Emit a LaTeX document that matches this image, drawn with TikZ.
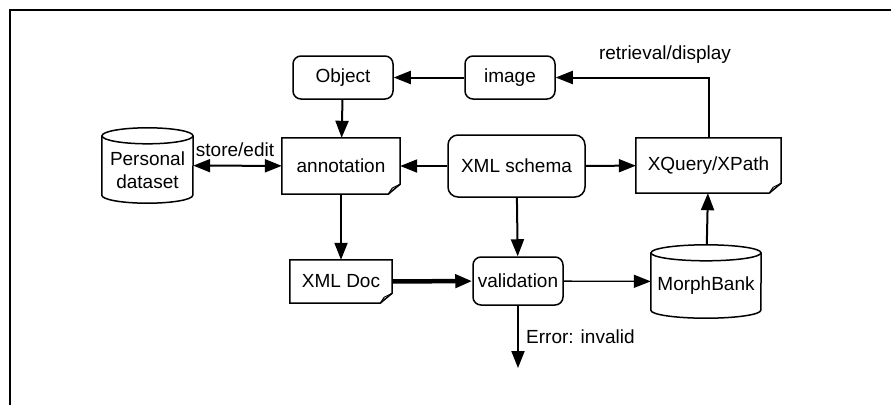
\documentclass[tikz,border=0pt]{standalone}
\usepackage{fontspec}
\setmainfont{Liberation Sans}
\usetikzlibrary{arrows.meta}

% document outline with a folded bottom-right corner
\newcommand\docoutline[1]{%
  \draw[line width=1.5pt] (#1.north west) -- (#1.north east) -- ([yshift=10pt]#1.south east)
    -- ([xshift=-12pt]#1.south east) -- (#1.south west) -- cycle;
  \draw[line width=1pt] ([xshift=-12pt]#1.south east) -- ([xshift=-8pt,yshift=6pt]#1.south east)
    -- ([yshift=10pt]#1.south east);}
% database cylinder drawn round a node; #2 = half width in pt
\newcommand\cyloutline[2]{%
  \draw[line width=1.5pt] ([yshift=-8pt]#1.north) ellipse[x radius=#2pt, y radius=8pt];
  \draw[line width=1.5pt] ([yshift=-8pt]#1.north west) -- ([yshift=8pt]#1.south west)
    arc[start angle=180, end angle=360, x radius=#2pt, y radius=8pt]
    -- ([yshift=-8pt]#1.north east);}

\begin{document}
\begin{tikzpicture}[x=1pt,y=-1pt,
  every node/.style={font=\fontsize{19}{23}\selectfont, inner sep=0pt},
  rbox/.style={draw, line width=1.5pt, rounded corners=8pt},
  plain/.style={align=center},
  arr/.style={-{Triangle[length=17pt,width=13pt]}, line width=2pt},
  lbl/.style={font=\fontsize{19}{23}\selectfont}]
\useasboundingbox (0,0) rectangle (891,405);

% frame
\draw[line width=2pt] (10,405) -- (10,10) -- (891,10);

% boxes
\node[rbox, minimum width=100pt, minimum height=43pt] (obj) at (343,77.5) {Object};
\node[rbox, minimum width=90pt, minimum height=43pt] (img) at (510,77.5) {image};
\node[rbox, rounded corners=10pt, minimum width=137pt, minimum height=62pt] (schema) at (516.5,166) {XML schema};
\node[rbox, minimum width=90pt, minimum height=48pt] (val) at (518,281) {validation};

% documents
\node[plain, minimum width=118pt, minimum height=56pt] (ann) at (341,166) {annotation};
\node[plain, minimum width=145pt, minimum height=55pt] (xq) at (708.5,165.5) {XQuery/XPath};
\node[plain, minimum width=102pt, minimum height=43pt] (doc) at (341,281.5) {XML Doc};
\docoutline{ann}
\docoutline{xq}
\docoutline{doc}

% databases: outline node plus its text, set a little below the centre
\node[minimum width=91pt, minimum height=75pt] (pd) at (147.5,165.5) {};
\node[plain] (pdtext) at (147.5,170) {Personal\\dataset};
\node[minimum width=110pt, minimum height=73pt] (mb) at (706,281.5) {};
\node[plain] (mbtext) at (706,286) {MorphBank};
\cyloutline{pd}{45.5}
\cyloutline{mb}{55}

% connectors
\draw[arr] (img) -- (obj);
\draw[arr] (xq.north) |- (img.east);
\draw[arr] (obj) -- (ann);
\draw[{Triangle[length=17pt,width=13pt]}-{Triangle[length=17pt,width=13pt]}, line width=2pt] (pd) -- (ann);
\draw[arr] (schema) -- (ann);
\draw[arr] (schema) -- (xq);
\draw[arr] (ann) -- (doc);
\draw[arr] (schema) -- (val);
\draw[arr, line width=4.5pt] (doc) -- (val);
\draw[arr, line width=1.3pt] (val) -- (mb);
\draw[arr] (mb) -- (xq);
\coordinate (err) at (val.south |- 0,368);
\draw[arr] (val) -- (err);

% connector labels
\node[lbl] (se) at (235,150) {store/edit};
\node[lbl] (rd) at (665,55) {retrieval/display};
\node[lbl, anchor=west] (ei) at (526,337) {Error: invalid};
\end{tikzpicture}
\end{document}
